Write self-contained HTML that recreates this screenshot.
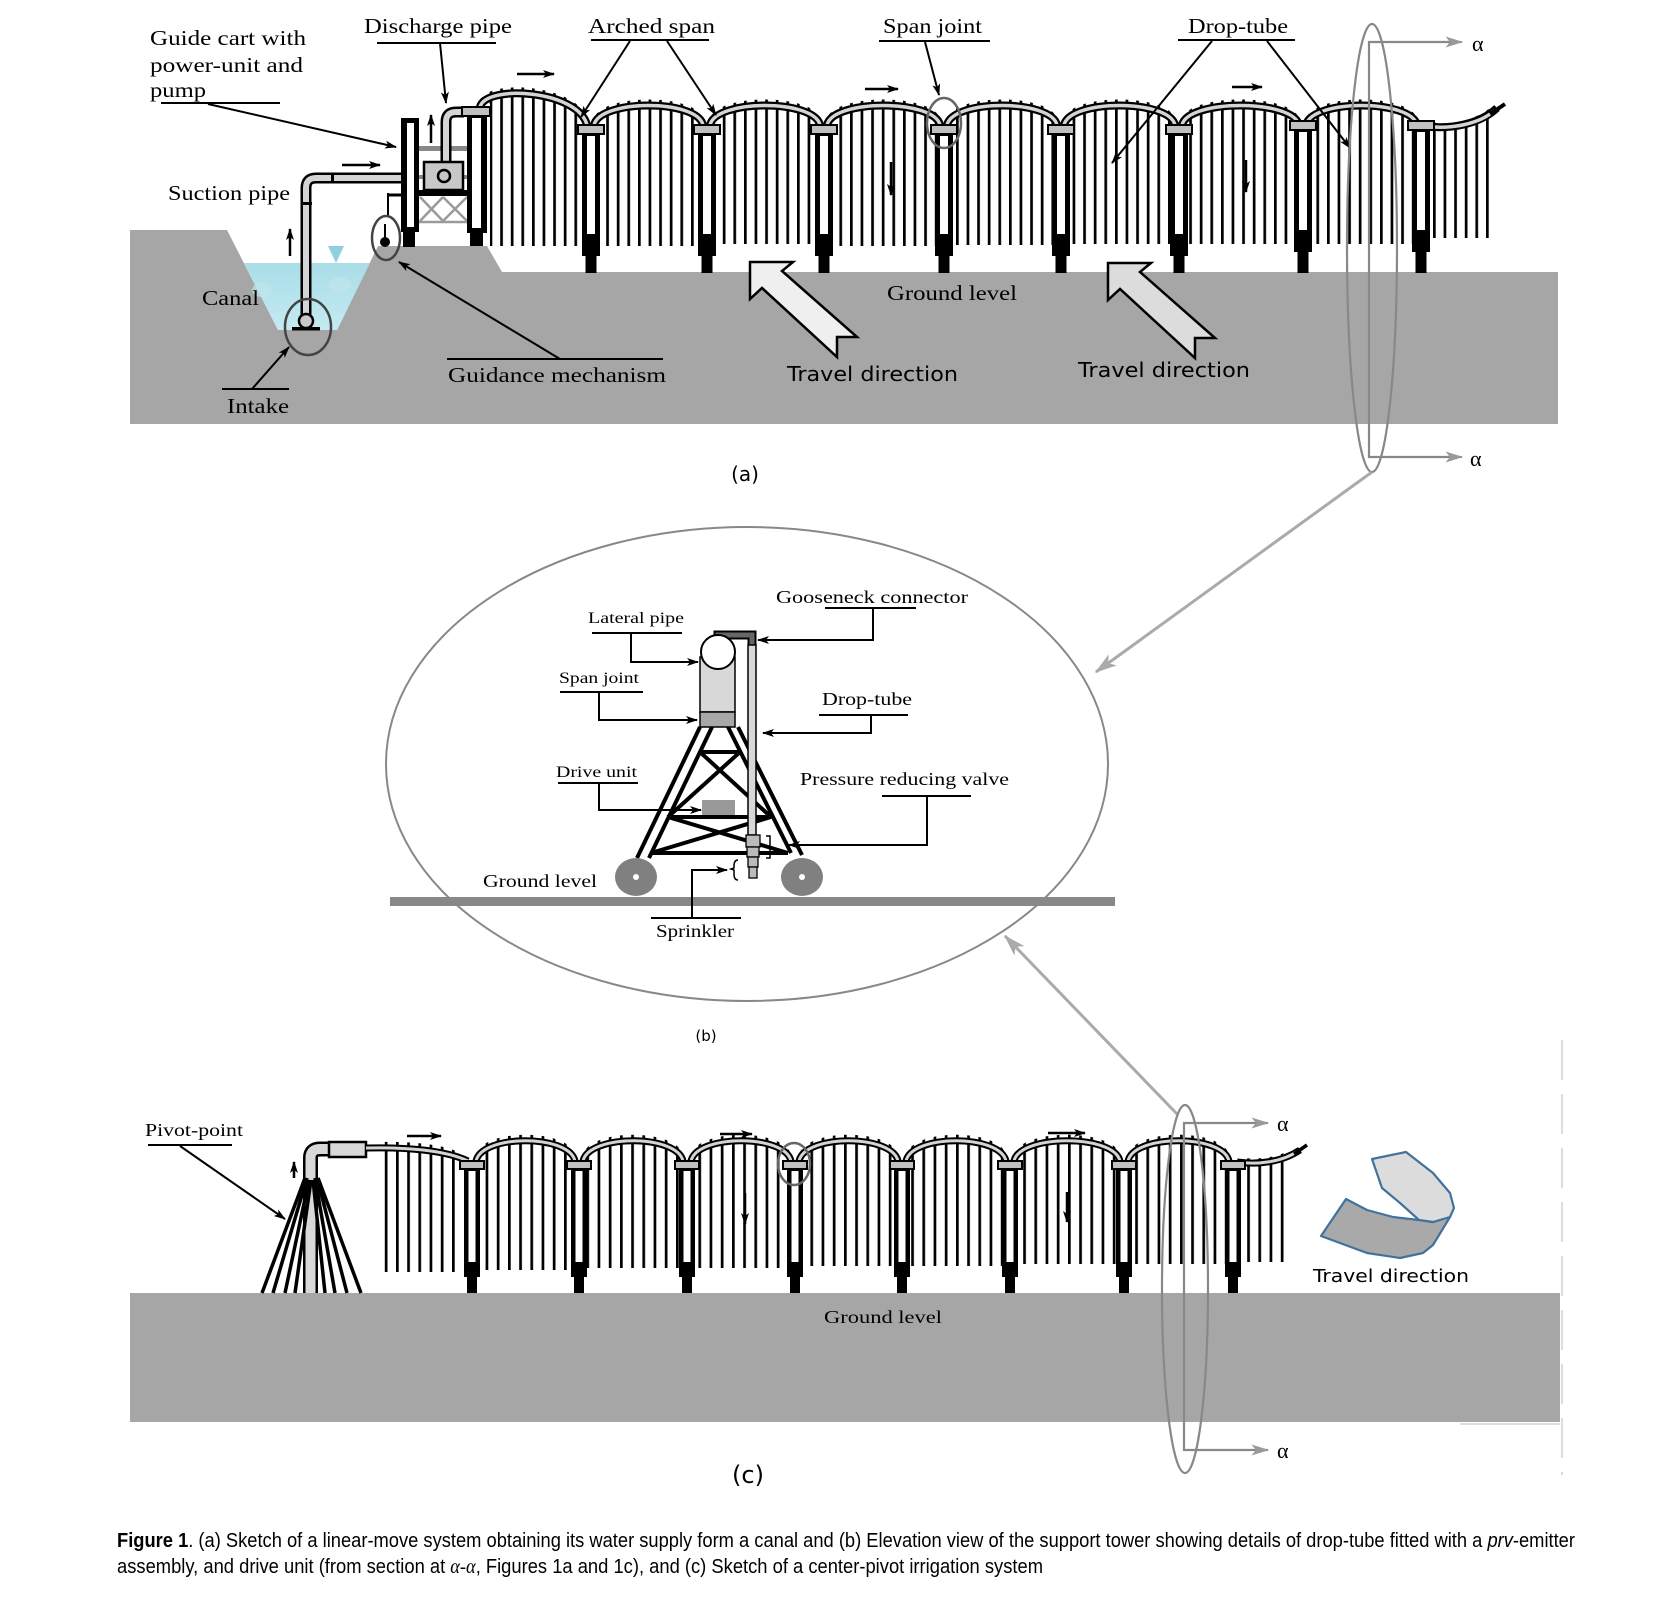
<!DOCTYPE html>
<html><head><meta charset="utf-8"><style>html,body{margin:0;padding:0;background:#fff}svg{display:block}</style></head><body>
<svg width="1654" height="1606" viewBox="0 0 1654 1606" xmlns="http://www.w3.org/2000/svg" xmlns:xlink="http://www.w3.org/1999/xlink">
<defs>
<marker id="ah" viewBox="0 0 12 8" refX="11" refY="4" markerWidth="13" markerHeight="8" markerUnits="userSpaceOnUse" orient="auto"><path d="M0,0 L12,4 L0,8 L3,4 Z" fill="#000"/></marker>
<marker id="ahg" viewBox="0 0 16 10" refX="15" refY="5" markerWidth="18" markerHeight="11" markerUnits="userSpaceOnUse" orient="auto"><path d="M0,0 L16,5 L0,10 L4,5 Z" fill="#999"/></marker>
<marker id="ahg2" viewBox="0 0 16 10" refX="15" refY="5" markerWidth="22" markerHeight="14" markerUnits="userSpaceOnUse" orient="auto"><path d="M0,0 L16,5 L0,10 L4,5 Z" fill="#aaa"/></marker>
<pattern id="sa" patternUnits="userSpaceOnUse" x="2" y="0" width="10.6" height="20"><rect x="0" y="0" width="2.7" height="20" fill="#000"/></pattern>
<pattern id="sc" patternUnits="userSpaceOnUse" x="4" y="0" width="11.2" height="20"><rect x="0" y="0" width="2.7" height="20" fill="#000"/></pattern>
<linearGradient id="wat" x1="0" y1="0" x2="0" y2="1"><stop offset="0" stop-color="#a9dde8"/><stop offset="1" stop-color="#c4eaf1"/></linearGradient>
<g id="towerA"><rect x="-13" y="125" width="26" height="9" fill="#c0c0c0" stroke="#000" stroke-width="2"/><rect x="-9" y="134" width="18" height="122"/><rect x="-4" y="136" width="8" height="98" fill="#fff"/><rect x="-5.5" y="256" width="11" height="17"/></g>
<g id="towerC"><rect x="-12" y="1161" width="24" height="8" fill="#c0c0c0" stroke="#000" stroke-width="2"/><rect x="-8" y="1169" width="16" height="108"/><rect x="-3.5" y="1171" width="7" height="91" fill="#fff"/><rect x="-5" y="1277" width="10" height="16"/></g>
</defs>

<!-- ================= PANEL (a) ================= -->
<polygon points="130,230 227,230 278,330 337,330 378,246 487,246 502,272 1558,272 1558,424 130,424" fill="#a6a6a6"/>
<polygon points="244,263 370,263 337,330 278,330" fill="url(#wat)"/>
<ellipse cx="262" cy="290" rx="10" ry="7" fill="#bfe6ee" opacity="0.7"/>
<ellipse cx="340" cy="285" rx="12" ry="8" fill="#bfe6ee" opacity="0.7"/>
<polygon points="328,246 344,246 336,263" fill="#8fd0df"/>

<!-- drop tube stripes (a) -->
<g transform="translate(0,-6)" fill="url(#sa)">
<path d="M490,110 L480,107 C486,84 578,90 587,125 L587,252 L490,252 Z"/>
<path d="M594,125 C600,99 697,99 703,125 L703,252 L594,252 Z"/>
<path d="M710,125 C716,99 814,99 820,125 L820,250 L710,250 Z"/>
<path d="M827,125 C833,99 934,99 940,125 L940,252 L827,252 Z"/>
<path d="M947,125 C953,99 1051,99 1057,125 L1057,251 L947,251 Z"/>
<path d="M1064,125 C1070,99 1169,99 1175,125 L1175,250 L1064,250 Z"/>
<path d="M1182,125 C1188,99 1293,99 1299,125 L1299,250 L1182,250 Z"/>
<path d="M1306,125 C1312,99 1411,99 1417,125 L1417,250 L1306,250 Z"/>
<path d="M1432,128 C1450,132 1475,126 1490,114 L1490,244 L1432,244 Z"/>
</g>

<!-- lateral pipe (a) -->
<g fill="none" stroke-linecap="butt">
<path d="M480,107 C486,84 578,90 587,125 M594,125 C600,99 697,99 703,125 M710,125 C716,99 814,99 820,125 M827,125 C833,99 934,99 940,125 M947,125 C953,99 1051,99 1057,125 M1064,125 C1070,99 1169,99 1175,125 M1182,125 C1188,99 1293,99 1299,125 M1306,125 C1312,99 1411,99 1417,125 M1424,126 C1450,130 1480,124 1497,108" stroke="#000" stroke-width="8"/>
<path d="M480,107 C486,84 578,90 587,125 M594,125 C600,99 697,99 703,125 M710,125 C716,99 814,99 820,125 M827,125 C833,99 934,99 940,125 M947,125 C953,99 1051,99 1057,125 M1064,125 C1070,99 1169,99 1175,125 M1182,125 C1188,99 1293,99 1299,125 M1306,125 C1312,99 1411,99 1417,125 M1424,126 C1450,130 1480,124 1495,110" stroke="#d4d4d4" stroke-width="3.5"/>
<line x1="1490" y1="114" x2="1505" y2="104" stroke="#000" stroke-width="4"/>
</g>

<!-- towers (a) -->
<use xlink:href="#towerA" x="591"/>
<use xlink:href="#towerA" x="707"/>
<use xlink:href="#towerA" x="824"/>
<use xlink:href="#towerA" x="944"/>
<use xlink:href="#towerA" x="1061"/>
<use xlink:href="#towerA" x="1179"/>
<use xlink:href="#towerA" x="1303" y="-4"/>
<use xlink:href="#towerA" x="1421" y="-4"/>
<rect x="1297.5" y="253" width="11" height="20"/>
<rect x="1415.5" y="253" width="11" height="20"/>

<!-- guide cart / pump -->
<rect x="419" y="146" width="49" height="5" fill="#888"/>
<rect x="419" y="175" width="49" height="4" fill="#888"/>
<g stroke="#9a9a9a" stroke-width="2.5">
<line x1="420" y1="197" x2="443" y2="221"/><line x1="443" y1="197" x2="420" y2="221"/>
<line x1="443" y1="197" x2="467" y2="221"/><line x1="467" y1="197" x2="443" y2="221"/>
<line x1="419" y1="222" x2="468" y2="222"/>
</g>
<rect x="419" y="190" width="49" height="6" fill="#000"/>
<path d="M446,162 L446,122 Q446,112 456,112 L464,112" fill="none" stroke="#000" stroke-width="11"/>
<path d="M446,162 L446,122 Q446,112 456,112 L464,112" fill="none" stroke="#d4d4d4" stroke-width="6"/>
<rect x="424" y="162" width="39" height="28" fill="#c8c8c8" stroke="#000" stroke-width="2.5"/>
<circle cx="444" cy="176" r="6" fill="#c8c8c8" stroke="#000" stroke-width="2.5"/>
<rect x="467" y="116" width="20" height="117"/>
<rect x="472" y="118" width="9" height="110" fill="#fff"/>
<rect x="470" y="233" width="13" height="13"/>
<rect x="462" y="107" width="28" height="9" fill="#c0c0c0" stroke="#000" stroke-width="2"/>
<rect x="401" y="118" width="18" height="114"/>
<rect x="407" y="123" width="7" height="104" fill="#fff"/>
<rect x="403" y="232" width="12" height="15"/>
<path d="M306,318 L306,188 Q306,178 316,178 L401,178" fill="none" stroke="#000" stroke-width="11"/>
<path d="M306,318 L306,188 Q306,178 316,178 L401,178" fill="none" stroke="#d4d4d4" stroke-width="6"/>
<rect x="301" y="202" width="11" height="3"/>
<rect x="331" y="173" width="3" height="10"/>
<circle cx="306" cy="321" r="7" fill="#c8c8c8" stroke="#000" stroke-width="2.5"/>
<rect x="292" y="327" width="28" height="3.5"/>
<line x1="388" y1="195" x2="402" y2="195" stroke="#000" stroke-width="3"/>
<line x1="388" y1="193" x2="388" y2="217" stroke="#000" stroke-width="2"/>
<line x1="385" y1="224" x2="385" y2="240" stroke="#000" stroke-width="2"/>
<circle cx="385" cy="242" r="5"/>
<ellipse cx="386" cy="238" rx="14" ry="22" fill="none" stroke="#444" stroke-width="2.5"/>
<ellipse cx="308" cy="327" rx="23" ry="28" fill="none" stroke="#444" stroke-width="2.5"/>
<ellipse cx="944" cy="123" rx="17" ry="25" fill="none" stroke="#666" stroke-width="2.5"/>

<g stroke="#000" stroke-width="2.5" marker-end="url(#ah)">
<line x1="290" y1="256" x2="290" y2="229"/>
<line x1="342" y1="165" x2="380" y2="165"/>
<line x1="431" y1="143" x2="431" y2="115"/>
<line x1="517" y1="74" x2="554" y2="74"/>
<line x1="865" y1="89" x2="898" y2="89"/>
<line x1="1232" y1="87" x2="1262" y2="87"/>
<line x1="891" y1="162" x2="891" y2="195"/>
<line x1="1246" y1="160" x2="1246" y2="192"/>
</g>

<polygon points="750,262 793,262 782,271 857,337 837,337 837,357 762,288 750,299" fill="#efefef" stroke="#000" stroke-width="2.5"/>
<polygon points="1108,263 1151,263 1140,272 1215,338 1195,338 1195,358 1120,289 1108,300" fill="#dcdcdc" stroke="#000" stroke-width="2.5"/>

<g font-family="Liberation Serif, serif" font-size="21" fill="#000">
<text x="150" y="45" textLength="156" lengthAdjust="spacingAndGlyphs">Guide  cart with</text>
<text x="150" y="72" textLength="153" lengthAdjust="spacingAndGlyphs">power-unit  and</text>
<text x="150" y="97" textLength="56" lengthAdjust="spacingAndGlyphs">pump</text>
<text x="364" y="33" textLength="148" lengthAdjust="spacingAndGlyphs">Discharge pipe</text>
<text x="588" y="33" textLength="127" lengthAdjust="spacingAndGlyphs">Arched span</text>
<text x="883" y="33" textLength="99" lengthAdjust="spacingAndGlyphs">Span joint</text>
<text x="1188" y="33" textLength="100" lengthAdjust="spacingAndGlyphs">Drop-tube</text>
<text x="168" y="200" textLength="122" lengthAdjust="spacingAndGlyphs">Suction pipe</text>
<text x="202" y="305" textLength="57" lengthAdjust="spacingAndGlyphs">Canal</text>
<text x="227" y="413" textLength="62" lengthAdjust="spacingAndGlyphs">Intake</text>
<text x="448" y="382" textLength="218" lengthAdjust="spacingAndGlyphs">Guidance mechanism</text>
<text x="887" y="300" textLength="130" lengthAdjust="spacingAndGlyphs">Ground level</text>
</g>
<g font-family="DejaVu Sans, Liberation Sans, sans-serif" font-size="20" fill="#000">
<text x="787" y="381" textLength="171" lengthAdjust="spacingAndGlyphs">Travel direction</text>
<text x="1078" y="377" textLength="172" lengthAdjust="spacingAndGlyphs">Travel direction</text>
<text x="745" y="481" text-anchor="middle" font-size="20">(a)</text>
</g>
<g stroke="#000" stroke-width="2">
<line x1="161" y1="103" x2="280" y2="103"/>
<line x1="377" y1="43" x2="496" y2="43"/>
<line x1="591" y1="40" x2="709" y2="40"/>
<line x1="879" y1="41" x2="990" y2="41"/>
<line x1="1178" y1="40" x2="1295" y2="40"/>
<line x1="222" y1="389" x2="289" y2="389"/>
<line x1="447" y1="359" x2="663" y2="359"/>
</g>
<g stroke="#000" stroke-width="2" marker-end="url(#ah)">
<line x1="208" y1="104" x2="396" y2="147"/>
<line x1="440" y1="43" x2="446" y2="103"/>
<line x1="630" y1="41" x2="581" y2="117"/>
<line x1="667" y1="41" x2="716" y2="115"/>
<line x1="925" y1="42" x2="939" y2="95"/>
<line x1="1212" y1="41" x2="1112" y2="163"/>
<line x1="1267" y1="41" x2="1350" y2="148"/>
<line x1="252" y1="389" x2="289" y2="347"/>
<line x1="560" y1="359" x2="399" y2="262"/>
</g>

<ellipse cx="1372" cy="248" rx="25" ry="224" fill="none" stroke="#888" stroke-width="2.2"/>
<polyline points="1460,42 1369,42 1369,457 1460,457" fill="none" stroke="#888" stroke-width="2.2"/>
<line x1="1440" y1="42" x2="1462" y2="42" stroke="#888" stroke-width="2" marker-end="url(#ahg)"/>
<line x1="1440" y1="457" x2="1462" y2="457" stroke="#888" stroke-width="2" marker-end="url(#ahg)"/>
<g font-family="Liberation Serif, DejaVu Serif, serif" font-size="22" fill="#000">
<text x="1472" y="51">α</text>
<text x="1470" y="466">α</text>
</g>

<line x1="1372" y1="472" x2="1096" y2="672" stroke="#aaa" stroke-width="3" marker-end="url(#ahg2)"/>
<line x1="1178" y1="1115" x2="1005" y2="936" stroke="#aaa" stroke-width="3" marker-end="url(#ahg2)"/>

<!-- ================= PANEL (b) ================= -->
<ellipse cx="747" cy="764" rx="361" ry="237" fill="none" stroke="#888" stroke-width="2"/>
<rect x="390" y="897" width="725" height="9" fill="#888"/>
<g stroke="#000" stroke-width="4">
<line x1="700" y1="727" x2="637" y2="858"/>
<line x1="712" y1="727" x2="649" y2="858"/>
<line x1="728" y1="727" x2="791" y2="853"/>
<line x1="738" y1="727" x2="802" y2="855"/>
<line x1="700" y1="752" x2="740" y2="752"/>
<line x1="700" y1="752" x2="771" y2="817"/>
<line x1="740" y1="752" x2="668" y2="817"/>
<line x1="668" y1="817" x2="771" y2="817"/>
<line x1="668" y1="817" x2="788" y2="853"/>
<line x1="771" y1="817" x2="651" y2="853"/>
<line x1="651" y1="853" x2="788" y2="853"/>
</g>
<rect x="702" y="800" width="33" height="15" fill="#999"/>
<ellipse cx="636" cy="877" rx="21" ry="19" fill="#808080"/>
<ellipse cx="802" cy="877" rx="21" ry="19" fill="#808080"/>
<circle cx="636" cy="877" r="3" fill="#fff"/>
<circle cx="802" cy="877" r="3" fill="#fff"/>
<rect x="700" y="657" width="35" height="55" fill="#d8d8d8" stroke="#000" stroke-width="1.5"/>
<rect x="700" y="712" width="35" height="15" fill="#a8a8a8" stroke="#000" stroke-width="1.5"/>
<path d="M718,648 L718,635 L752,635 L752,650" fill="none" stroke="#000" stroke-width="9"/>
<path d="M718,648 L718,635 L752,635 L752,650" fill="none" stroke="#666" stroke-width="5"/>
<rect x="748" y="645" width="8" height="190" fill="#d8d8d8" stroke="#000" stroke-width="1.5"/>
<circle cx="718" cy="652" r="17" fill="#fff" stroke="#000" stroke-width="2"/>
<g fill="#bbb" stroke="#000" stroke-width="1.3">
<rect x="746" y="835" width="14" height="12"/>
<rect x="747" y="847" width="12" height="10"/>
<rect x="748" y="857" width="10" height="10"/>
<rect x="749" y="867" width="8" height="11"/>
</g>
<path d="M766,836 L770,836 L770,858 L766,858" fill="none" stroke="#000" stroke-width="1.5"/>
<path d="M738,860 Q734,860 734,866 L734,868 L731,869 L734,870 L734,874 Q734,880 738,880" fill="none" stroke="#000" stroke-width="1.5"/>
<g font-family="Liberation Serif, serif" fill="#000">
<text x="776" y="603" font-size="18" textLength="192" lengthAdjust="spacingAndGlyphs">Gooseneck connector</text>
<text x="588" y="623" font-size="16" textLength="96" lengthAdjust="spacingAndGlyphs">Lateral pipe</text>
<text x="559" y="683" font-size="16" textLength="80" lengthAdjust="spacingAndGlyphs">Span joint</text>
<text x="822" y="705" font-size="18" textLength="90" lengthAdjust="spacingAndGlyphs">Drop-tube</text>
<text x="556" y="777" font-size="16" textLength="81" lengthAdjust="spacingAndGlyphs">Drive unit</text>
<text x="800" y="785" font-size="18" textLength="209" lengthAdjust="spacingAndGlyphs">Pressure reducing valve</text>
<text x="483" y="887" font-size="18" textLength="114" lengthAdjust="spacingAndGlyphs">Ground level</text>
<text x="656" y="937" font-size="18" textLength="78" lengthAdjust="spacingAndGlyphs">Sprinkler</text>
</g>
<g stroke="#000" stroke-width="2">
<line x1="825" y1="608" x2="916" y2="608"/>
<line x1="592" y1="633" x2="682" y2="633"/>
<line x1="560" y1="692" x2="643" y2="692"/>
<line x1="819" y1="715" x2="908" y2="715"/>
<line x1="558" y1="783" x2="638" y2="783"/>
<line x1="882" y1="796" x2="971" y2="796"/>
<line x1="651" y1="918" x2="741" y2="918"/>
</g>
<g stroke="#000" stroke-width="2" fill="none" marker-end="url(#ah)">
<polyline points="873,608 873,640 758,640"/>
<polyline points="631,633 631,662 698,662"/>
<polyline points="599,692 599,720 697,720"/>
<polyline points="871,715 871,733 763,733"/>
<polyline points="599,783 599,810 701,810"/>
<polyline points="927,796 927,845 789,845"/>
<polyline points="692,918 692,870 727,870"/>
</g>
<text x="706" y="1041" text-anchor="middle" font-family="DejaVu Sans, Liberation Sans, sans-serif" font-size="15">(b)</text>

<!-- ================= PANEL (c) ================= -->
<rect x="130" y="1293" width="1430" height="129" fill="#a6a6a6"/>
<line x1="1562" y1="1040" x2="1562" y2="1475" stroke="#ddd" stroke-width="2" stroke-dasharray="40,14"/>
<line x1="1460" y1="1424" x2="1560" y2="1424" stroke="#ddd" stroke-width="2"/>

<g transform="translate(0,-6)" fill="url(#sc)">
<path d="M378,1148 C410,1147 445,1150 462,1160 L462,1278 L378,1278 Z"/>
<path d="M476,1161 C482,1134 569,1134 575,1161 L575,1276 L476,1276 Z"/>
<path d="M583,1161 C589,1134 677,1134 683,1161 L683,1274 L583,1274 Z"/>
<path d="M691,1161 C697,1134 785,1134 791,1161 L791,1274 L691,1274 Z"/>
<path d="M799,1161 C805,1134 892,1134 898,1161 L898,1272 L799,1272 Z"/>
<path d="M906,1161 C912,1134 1000,1134 1006,1161 L1006,1272 L906,1272 Z"/>
<path d="M1014,1161 C1020,1134 1114,1134 1120,1161 L1120,1270 L1014,1270 Z"/>
<path d="M1128,1161 C1134,1134 1223,1134 1229,1161 L1229,1270 L1128,1270 Z"/>
<path d="M1243,1164 C1262,1166 1280,1162 1290,1156 L1290,1268 L1243,1268 Z"/>
</g>
<path d="M310.5,1293 L310.5,1158 Q310.5,1149 320,1149 L330,1149" fill="none" stroke="#000" stroke-width="15"/>
<path d="M310.5,1293 L310.5,1158 Q310.5,1149 320,1149 L330,1149" fill="none" stroke="#d8d8d8" stroke-width="10"/>
<rect x="329" y="1142" width="37" height="15" fill="#d8d8d8" stroke="#000" stroke-width="2.5"/>
<g stroke="#000" stroke-width="3.5">
<line x1="305" y1="1178" x2="262" y2="1293"/>
<line x1="307" y1="1178" x2="273" y2="1293"/>
<line x1="309" y1="1180" x2="285" y2="1293"/>
<line x1="311" y1="1180" x2="295" y2="1293"/>
<line x1="313" y1="1180" x2="325" y2="1293"/>
<line x1="315" y1="1178" x2="335" y2="1293"/>
<line x1="317" y1="1178" x2="347" y2="1293"/>
<line x1="318" y1="1178" x2="361" y2="1293"/>
</g>
<g fill="none">
<path d="M366,1148 C405,1147 445,1150 468,1161 M476,1161 C482,1134 569,1134 575,1161 M583,1161 C589,1134 677,1134 683,1161 M691,1161 C697,1134 785,1134 791,1161 M799,1161 C805,1134 892,1134 898,1161 M906,1161 C912,1134 1000,1134 1006,1161 M1014,1161 C1020,1134 1114,1134 1120,1161 M1128,1161 C1134,1134 1223,1134 1229,1161 M1237,1162 C1258,1165 1282,1162 1300,1150" stroke="#000" stroke-width="7"/>
<path d="M366,1148 C405,1147 445,1150 468,1161 M476,1161 C482,1134 569,1134 575,1161 M583,1161 C589,1134 677,1134 683,1161 M691,1161 C697,1134 785,1134 791,1161 M799,1161 C805,1134 892,1134 898,1161 M906,1161 C912,1134 1000,1134 1006,1161 M1014,1161 C1020,1134 1114,1134 1120,1161 M1128,1161 C1134,1134 1223,1134 1229,1161 M1237,1162 C1258,1165 1282,1162 1298,1151" stroke="#d4d4d4" stroke-width="3"/>
<line x1="1294" y1="1154" x2="1307" y2="1145" stroke="#000" stroke-width="3.5"/>
</g>
<use xlink:href="#towerC" x="472"/>
<use xlink:href="#towerC" x="579"/>
<use xlink:href="#towerC" x="687"/>
<use xlink:href="#towerC" x="795"/>
<use xlink:href="#towerC" x="902"/>
<use xlink:href="#towerC" x="1010"/>
<use xlink:href="#towerC" x="1124"/>
<use xlink:href="#towerC" x="1233"/>
<ellipse cx="794" cy="1164" rx="16" ry="21" fill="none" stroke="#666" stroke-width="2.5"/>
<g stroke="#000" stroke-width="2.5" marker-end="url(#ah)">
<line x1="294" y1="1178" x2="294" y2="1162"/>
<line x1="407" y1="1136" x2="441" y2="1136"/>
<line x1="720" y1="1134" x2="752" y2="1134"/>
<line x1="1048" y1="1133" x2="1085" y2="1133"/>
<line x1="745" y1="1193" x2="745" y2="1224"/>
<line x1="1067" y1="1192" x2="1067" y2="1222"/>
</g>
<text x="145" y="1136" font-family="Liberation Serif, serif" font-size="18" textLength="98" lengthAdjust="spacingAndGlyphs">Pivot-point</text>
<line x1="148" y1="1145" x2="232" y2="1145" stroke="#000" stroke-width="2"/>
<line x1="180" y1="1146" x2="285" y2="1219" stroke="#000" stroke-width="2" marker-end="url(#ah)"/>
<text x="824" y="1323" font-family="Liberation Serif, serif" font-size="18" textLength="118" lengthAdjust="spacingAndGlyphs">Ground level</text>

<ellipse cx="1185" cy="1289" rx="23" ry="184" fill="none" stroke="#888" stroke-width="2.2"/>
<polyline points="1267,1123 1184,1123 1184,1450 1267,1450" fill="none" stroke="#888" stroke-width="2.2"/>
<line x1="1250" y1="1123" x2="1268" y2="1123" stroke="#888" stroke-width="2" marker-end="url(#ahg)"/>
<line x1="1250" y1="1450" x2="1268" y2="1450" stroke="#888" stroke-width="2" marker-end="url(#ahg)"/>
<g font-family="Liberation Serif, DejaVu Serif, serif" font-size="22" fill="#000">
<text x="1277" y="1131">α</text>
<text x="1277" y="1458">α</text>
</g>

<polygon points="1346,1199 1367,1210 1393,1217 1419,1220 1433,1222 1450,1217 1433,1245 1423,1253 1400,1258 1367,1253 1321,1236" fill="#a9a9a9" stroke="#41719c" stroke-width="2.2" stroke-linejoin="round"/>
<polygon points="1372,1159 1406,1152 1433,1173 1450,1193 1454,1208 1450,1217 1433,1222 1419,1220 1400,1203 1382,1188" fill="#dcdcdc" stroke="#41719c" stroke-width="2.2" stroke-linejoin="round"/>
<text x="1313" y="1282" font-family="DejaVu Sans, Liberation Sans, sans-serif" font-size="18" textLength="156" lengthAdjust="spacingAndGlyphs">Travel direction</text>
<text x="748" y="1483" text-anchor="middle" font-family="DejaVu Sans, Liberation Sans, sans-serif" font-size="24">(c)</text>

<g font-family="Liberation Sans Narrow, Liberation Sans, sans-serif" font-size="20" fill="#000">
<text x="117" y="1547" textLength="1458" lengthAdjust="spacingAndGlyphs"><tspan font-weight="bold">Figure 1</tspan>. (a) Sketch of a linear-move system obtaining its water supply form a canal and (b) Elevation view of the support tower showing details of drop-tube fitted with a <tspan font-style="italic">prv</tspan>-emitter</text>
<text x="117" y="1573" textLength="926" lengthAdjust="spacingAndGlyphs">assembly, and drive unit (from section at <tspan font-family="Liberation Serif, serif" font-style="italic">α-α</tspan>, Figures 1a and 1c), and (c) Sketch of a center-pivot irrigation system</text>
</g>
</svg>
</body></html>
